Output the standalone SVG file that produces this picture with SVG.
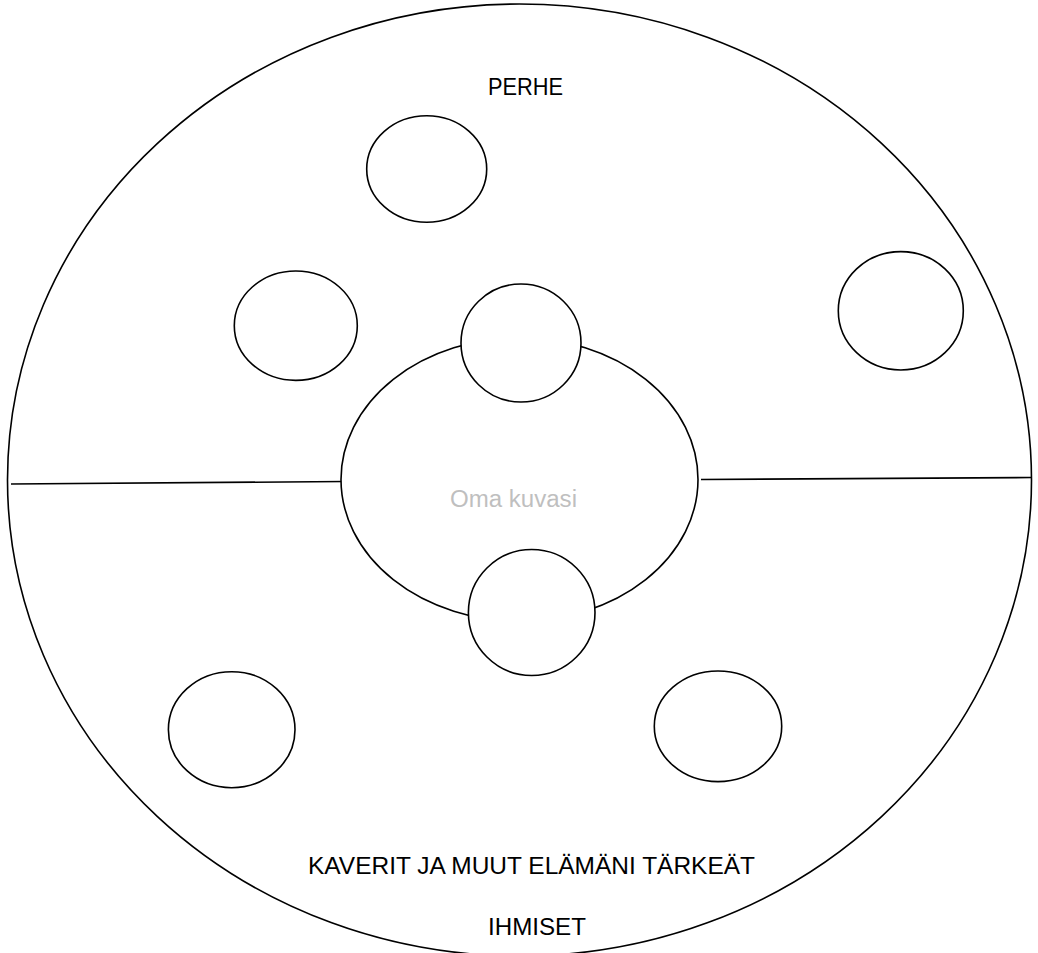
<svg xmlns="http://www.w3.org/2000/svg" width="1038" height="953" viewBox="0 0 1038 953">
<style>
.s{fill:#fff;stroke:#000;stroke-width:1.6}
.l{stroke:#000;stroke-width:1.6;fill:none}
.t{font-family:"Liberation Sans",Arial,sans-serif;font-size:24px;fill:#000}
.g{font-family:"Liberation Sans",Arial,sans-serif;font-size:23px;fill:#bfbfbf}
</style>
<rect width="1038" height="953" fill="#fff"/>
<g id="outer"><ellipse class="s" cx="519.5" cy="480" rx="512" ry="476"/></g>
<g id="connectors">
<line class="l" x1="11" y1="484" x2="345" y2="481.5"/>
<line class="l" x1="701" y1="479.5" x2="1031" y2="477.5"/>
</g>
<g id="center"><ellipse class="s" cx="519.5" cy="479.5" rx="178.5" ry="141.6"/>
<text class="g" x="450" y="506.5" textLength="127" lengthAdjust="spacingAndGlyphs">Oma kuvasi</text></g>
<g id="c-top-inner"><ellipse class="s" cx="521" cy="343" rx="60" ry="59"/></g>
<g id="c-bottom-inner"><ellipse class="s" cx="531.7" cy="612.5" rx="63.3" ry="63"/></g>
<g id="c-top"><ellipse class="s" cx="426.7" cy="169" rx="60" ry="53.3"/></g>
<g id="c-left"><ellipse class="s" cx="295.8" cy="325.7" rx="61.5" ry="54.7"/></g>
<g id="c-right"><ellipse class="s" cx="900.8" cy="310.8" rx="62.5" ry="59.2"/></g>
<g id="c-bottom-left"><ellipse class="s" cx="231.7" cy="729.7" rx="63.3" ry="58"/></g>
<g id="c-bottom-right"><ellipse class="s" cx="718" cy="726.3" rx="63.7" ry="55.3"/></g>
<g id="labels">
<text class="t" x="488" y="95" textLength="75" lengthAdjust="spacingAndGlyphs">PERHE</text>
<text class="t" x="308" y="874" textLength="447" lengthAdjust="spacingAndGlyphs">KAVERIT JA MUUT ELÄMÄNI TÄRKEÄT</text>
<text class="t" x="488" y="935" textLength="98" lengthAdjust="spacingAndGlyphs">IHMISET</text>
</g>
</svg>
